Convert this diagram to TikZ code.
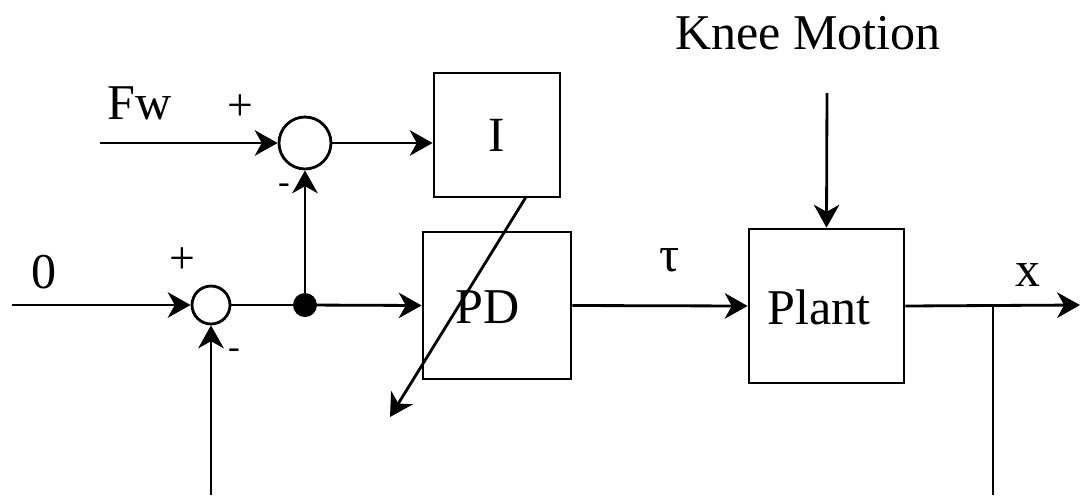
\documentclass[tikz,border=0pt]{standalone}
\usepackage{fontspec}
\setmainfont{Liberation Serif}
\usetikzlibrary{arrows.meta}
\begin{document}
\begin{tikzpicture}[x=0.02cm,y=-0.02cm,
  line width=1.6pt,
  arr/.style={-{Stealth[length=13pt,width=14.5pt,inset=4pt]}},
  blk/.style={draw,rectangle,inner sep=0pt,font=\fontsize{28}{32}\selectfont},
  sumc/.style={draw,circle,inner sep=0pt},
  big/.style={font=\fontsize{28.5}{32}\selectfont,inner sep=0pt},
  sgn/.style={font=\fontsize{26}{30}\selectfont,inner sep=0pt},
  msgn/.style={font=\fontsize{20}{24}\selectfont,inner sep=0pt}]
\useasboundingbox (0,0) rectangle (1080,495);
% blocks
\node[blk,minimum width=2.52cm,minimum height=2.48cm] (I) at (497,135) {I};
\node[blk,minimum width=2.96cm,minimum height=2.94cm] (PD) at (497,305.5) {};
\node[big] (PDt) at (488,307) {PD};
\node[blk,minimum width=3.1cm,minimum height=3.08cm] (Plant) at (826.5,306) {};
\node[big] (Plantt) at (819,307) {Plant};
% junctions
\node[sumc,minimum size=1.04cm] (sumU) at (305,143) {};
\node[sumc,minimum size=0.76cm] (sumL) at (211,305) {};
\node[circle,fill,inner sep=0pt,minimum size=0.48cm] (dot) at (305,305) {};
% coordinates
\coordinate (fwin) at (100,143);
\coordinate (zin) at (12,305);
\coordinate (fb) at (211,495);
\coordinate (knee) at (827,93);
\coordinate (xout) at (1080,305);
\coordinate (br) at (993,305);
\coordinate (brend) at (993,495);
\coordinate (dstart) at (526,197);
\coordinate (dend) at (390,417);
% labels
\node[big] (kneet) at (808,33) {Knee Motion};
\node[big] (fwt) at (140,103) {Fw};
\node[sgn] (p1) at (240,108) {+};
\node[msgn] (m1) at (284,189) {-};
\node[big] (zt) at (44,272) {0};
\node[sgn] (p2) at (182,261) {+};
\node[msgn] (m2) at (234,354) {-};
\node[big] (taut) at (670,260) {τ};
\node[big] (xt) at (1028,275) {x};
% connectors
\draw[arr] (fwin) -- (sumU.west);
\draw[arr] (sumU.east) -- (sumU.east -| I.west);
\draw[arr] (dot.center) -- (sumU.south);
\draw[arr] (zin) -- (sumL.west);
\draw (sumL.east) -- (dot.center);
\draw[arr] (dot.center) -- (PD.west);
\draw[arr] (fb) -- (sumL.south);
\draw[arr] (PD.east) -- (Plant.west);
\draw[arr] (knee) -- (Plant.north);
\draw[arr] (Plant.east) -- (xout);
\draw (br) -- (brend);
\draw[arr] (dstart) -- (dend);
\end{tikzpicture}
\end{document}
